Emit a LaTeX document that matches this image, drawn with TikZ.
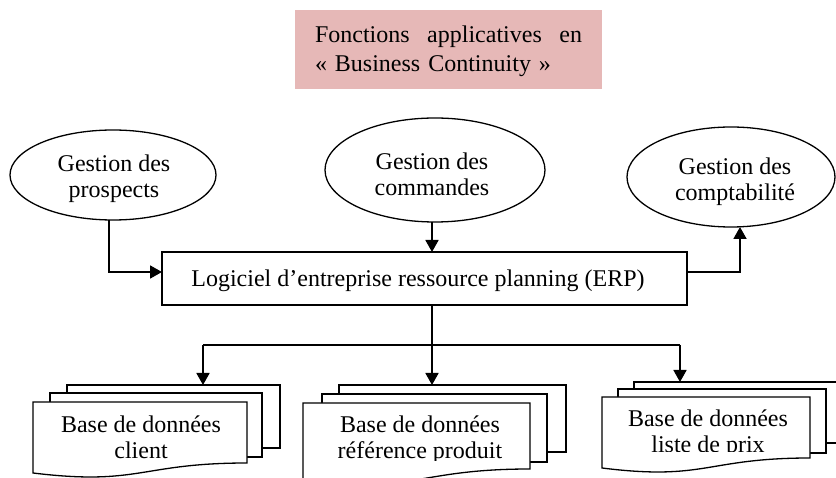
\documentclass[tikz,border=0pt]{standalone}
\usepackage{fontspec}
\setmainfont{Liberation Serif}
\usetikzlibrary{arrows.meta,shapes.geometric}
\definecolor{titlepink}{HTML}{E6B8B7}
\begin{document}
\begin{tikzpicture}[x=1pt,y=-1pt,
  every node/.style={inner sep=0pt, outer sep=0pt},
  txt/.style={font=\fontsize{24}{27}\selectfont, anchor=base},
  ellbox/.style={draw, ellipse, line width=1.3pt, fill=white},
  erpbox/.style={draw, rectangle, line width=1.3pt, fill=white},
  docline/.style={draw, line width=1.3pt, fill=white},
  conn/.style={line width=1.8pt},
  arr/.style={line width=1.8pt, -{Triangle[length=12pt,width=13pt]}}
]
\useasboundingbox (0,0) rectangle (836,478);
\clip (0,0) rectangle (836,478);

% title
\node[fill=titlepink, draw=titlepink, minimum width=306pt, minimum height=78pt] (title) at (448,49) {};
\node[txt, anchor=base west] (t1) at (315,43) {\makebox[267pt][s]{Fonctions applicatives en}};
\node[txt, anchor=base west] (t2) at (315,72) {\makebox[236pt][s]{« Business Continuity »}};

% ellipses
\node[ellbox, minimum width=206pt, minimum height=90pt] (prosp) at (113,175) {};
\node[txt] (prosp1) at (114,172) {Gestion des};
\node[txt] (prosp2) at (114,198) {prospects};

\node[ellbox, minimum width=220pt, minimum height=104pt] (comm) at (435,170) {};
\node[txt] (comm1) at (432,170) {Gestion des};
\node[txt] (comm2) at (432,196) {commandes};

\node[ellbox, minimum width=208pt, minimum height=100pt] (compta) at (731,177) {};
\node[txt] (compta1) at (735,175) {Gestion des};
\node[txt] (compta2) at (735,201) {comptabilité};

% ERP box
\node[erpbox, minimum width=525pt, minimum height=53pt] (erp) at (424.5,278.5) {};
\node[txt] (erpt) at (418,287) {Logiciel d’entreprise ressource planning (ERP)};

% connectors top
\draw[arr] ([xshift=-4pt]prosp.south) |- ([yshift=6.5pt]erp.west);
\draw[arr] ([xshift=-3pt]comm.south) -- ([xshift=-3pt]comm.south |- erp.north);
\draw[arr] ([yshift=6.5pt]erp.east) -| ([xshift=9pt]compta.south);

% document stacks
% client
\draw[docline] (67,385) rectangle (280,448);
\draw[docline] (50,393) rectangle (262,457);
\draw[docline] (33,402) -- (247,402) -- (247,463) .. controls (140,463) and (140,486) .. (33,473) -- cycle;
\node[txt] (cl1) at (141,432) {Base de données};
\node[txt] (cl2) at (141,458) {client};

% produit
\draw[docline] (339,385) rectangle (566,452);
\draw[docline] (322,394) rectangle (547,462);
\draw[docline] (303,403) -- (530,403) -- (530,469) .. controls (416.5,469) and (416.5,494) .. (303,480) -- cycle;
\node[txt] (pr1) at (420,433) {Base de données};
\begin{scope}
\clip (303,440) rectangle (530,460);
\node[txt] (pr2) at (420,458) {référence produit};
\end{scope}

% liste de prix
\draw[docline] (634,382) rectangle (850,443);
\draw[docline] (618,389) rectangle (826,453);
\draw[docline] (602,397) -- (810,397) -- (810,458) .. controls (706,458) and (706,481) .. (602,468) -- cycle;
\node[txt] (lp1) at (708,427) {Base de données};
\begin{scope}
\clip (602,430) rectangle (810,451);
\node[txt] (lp2) at (708,453) {liste de prix};
\end{scope}

% connectors bottom
\coordinate (hub) at (432,345);
\coordinate (jl) at (203,345);
\coordinate (jr) at (680,345);
\coordinate (tcl) at (203,385);
\coordinate (tpr) at (432,385);
\coordinate (tlp) at (680,382);
\draw[conn] (jl) -- (jr);
\draw[arr] (erp.south -| hub) -- (tpr);
\draw[arr] (jl) -- (tcl);
\draw[arr] (jr) -- (tlp);
\end{tikzpicture}
\end{document}
